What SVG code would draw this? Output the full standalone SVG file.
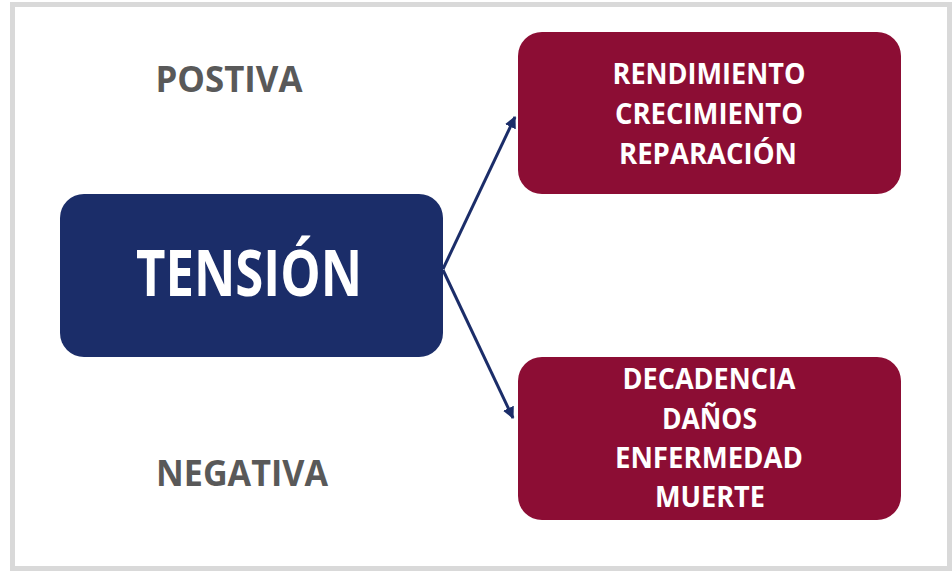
<svg xmlns="http://www.w3.org/2000/svg" width="952" height="571" viewBox="0 0 952 571">
<style>
.frame{fill:#ffffff;stroke:#d9d9d9;stroke-width:5}
.blue{fill:#1b2d69}
.red{fill:#8c0d34}
.t{font-family:"Open Sans","Liberation Sans",sans-serif;font-weight:bold;text-anchor:middle}
.w{fill:#ffffff}
.g{fill:#595959}
.conn{stroke:#1b2d69;stroke-width:3;fill:none;marker-end:url(#ah)}
</style>
<defs>
<marker id="ah" viewBox="0 0 10 10" refX="9" refY="5" markerWidth="4" markerHeight="4" orient="auto" markerUnits="strokeWidth">
<path d="M0,0 L10,5 L0,10 Z" fill="#1b2d69"/>
</marker>
</defs>
<rect class="frame" x="12.5" y="4.5" width="937" height="564"/>
<g id="label-postiva"><text class="t g" x="229" y="92" font-size="36" textLength="147" lengthAdjust="spacingAndGlyphs">POSTIVA</text></g>
<g id="label-negativa"><text class="t g" x="242" y="486" font-size="36" textLength="172" lengthAdjust="spacingAndGlyphs">NEGATIVA</text></g>
<g id="connectors">
<line class="conn" x1="443" y1="269" x2="515" y2="117"/>
<line class="conn" x1="443" y1="270" x2="513" y2="418"/>
</g>
<g id="tension">
<rect class="blue" x="60" y="194" width="383" height="163" rx="24"/>
<text class="t w" x="249" y="296" font-size="64" textLength="226" lengthAdjust="spacingAndGlyphs">TENSIÓN</text>
</g>
<g id="positiva-box">
<rect class="red" x="518" y="32" width="383" height="162" rx="24"/>
<text class="t w" x="709" y="84" font-size="28" textLength="193" lengthAdjust="spacingAndGlyphs">RENDIMIENTO</text>
<text class="t w" x="709" y="124" font-size="28" textLength="188" lengthAdjust="spacingAndGlyphs">CRECIMIENTO</text>
<text class="t w" x="708" y="164" font-size="28" textLength="178" lengthAdjust="spacingAndGlyphs">REPARACIÓN</text>
</g>
<g id="negativa-box">
<rect class="red" x="518" y="357" width="383" height="163" rx="24"/>
<text class="t w" x="709" y="389" font-size="28" textLength="173" lengthAdjust="spacingAndGlyphs">DECADENCIA</text>
<text class="t w" x="709.5" y="429" font-size="28" textLength="95" lengthAdjust="spacingAndGlyphs">DAÑOS</text>
<text class="t w" x="709" y="468" font-size="28" textLength="188" lengthAdjust="spacingAndGlyphs">ENFERMEDAD</text>
<text class="t w" x="710" y="507" font-size="28" textLength="110" lengthAdjust="spacingAndGlyphs">MUERTE</text>
</g>
</svg>
